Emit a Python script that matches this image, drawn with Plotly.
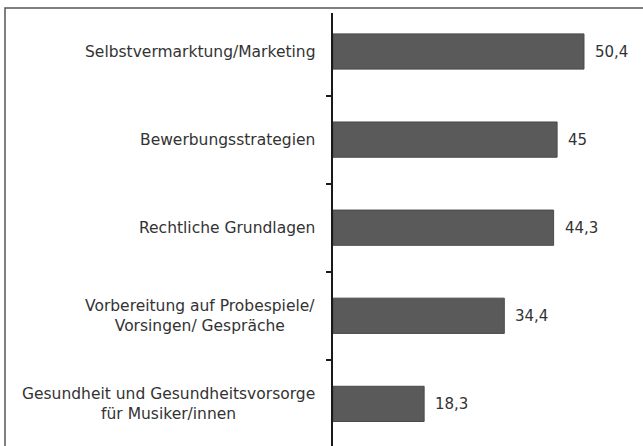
import plotly.graph_objects as go

categories = [
    "Selbstvermarktung/Marketing",
    "Bewerbungsstrategien",
    "Rechtliche Grundlagen",
    "Vorbereitung auf Probespiele/<br>Vorsingen/ Gespräche",
    "Gesundheit und Gesundheitsvorsorge<br>für Musiker/innen",
]
values = [50.4, 45, 44.3, 34.4, 18.3]
value_labels = [f"{v:g}".replace(".", ",") for v in values]

W, H = 643, 446
ML, MT = 333, 13
plot_w = W - ML
plot_h = H - MT
font_family = "DejaVu Sans"
text_color = "#333333"

fig = go.Figure()
fig.add_trace(go.Bar(
    x=values,
    y=categories,
    orientation="h",
    width=0.4,
    marker=dict(color="#5a5a5a", line=dict(color="#4a4a4a", width=1)),
    hoverinfo="skip",
))

annotations = []
for cat in categories:
    annotations.append(dict(
        xref="paper", yref="y", x=(317 - ML) / plot_w, y=cat,
        text=cat, showarrow=False, xanchor="right", yanchor="middle",
        align="center", font=dict(family=font_family, size=15.5, color=text_color),
    ))
for cat, v, lab in zip(categories, values, value_labels):
    annotations.append(dict(
        xref="x", yref="y", x=v, y=cat, text=lab, showarrow=False,
        xanchor="left", yanchor="middle", xshift=9,
        font=dict(family=font_family, size=15, color=text_color),
    ))

fig.update_layout(
    width=W, height=H,
    margin=dict(l=ML, r=0, t=MT, b=0, pad=0),
    paper_bgcolor="white", plot_bgcolor="white",
    showlegend=False,
    xaxis=dict(range=[0, 62.25], visible=False, fixedrange=True),
    yaxis=dict(
        type="category",
        categoryorder="array", categoryarray=categories,
        range=[4.478, -0.437],
        showline=True, linecolor="#1a1a1a", linewidth=2,
        ticks="outside", ticklen=5, tickwidth=2, tickcolor="#1a1a1a",
        tickson="boundaries",
        showticklabels=False, showgrid=False, zeroline=False,
        fixedrange=True,
    ),
    annotations=annotations,
    shapes=[dict(
        type="rect", xref="paper", yref="paper",
        x0=(5 - ML) / plot_w, x1=1.05,
        y0=-0.05, y1=(H - 8) / plot_h,
        line=dict(color="#555555", width=1.5), fillcolor="rgba(0,0,0,0)",
        layer="above",
    )],
)

fig.write_html(
    "out.html",
    config={"displayModeBar": False, "staticPlot": True},
    post_script="document.body.style.margin='0';document.body.style.overflow='hidden';",
)
